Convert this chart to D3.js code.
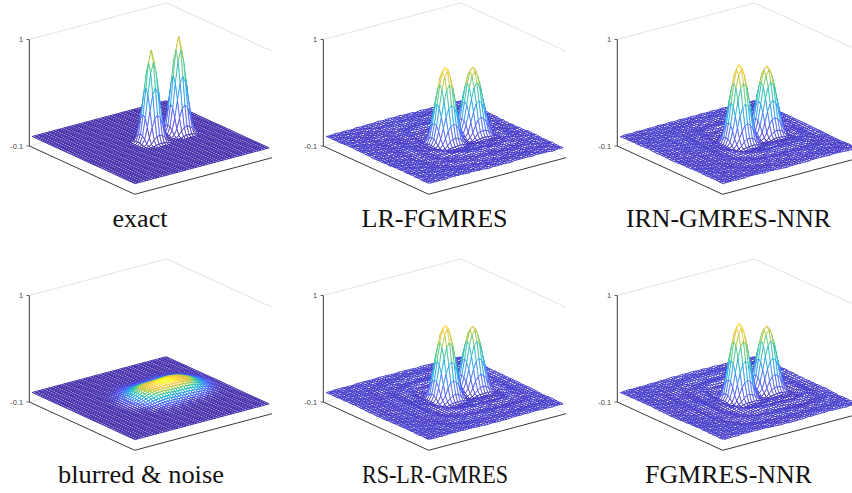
<!DOCTYPE html>
<html><head><meta charset="utf-8">
<script src="https://cdn.jsdelivr.net/npm/d3@7"></script>
<style>html,body{margin:0;background:#fff}svg{display:block}</style></head>
<body><svg id="c" width="852" height="493"></svg>
<script>
// All numbers below are estimates. The 51x51 mesh itself cannot be read
// node by node, so it is rebuilt from these peak heights, profiles, ripples and swells.
const titles = ["exact","LR-FGMRES","IRN-GMRES-NNR","blurred & noise","RS-LR-GMRES","FGMRES-NNR"];
const titleWidths = [55,146,205,166,146,167];
const titleCentres = [140,434.5,728.5,141,435,728.5];
const zTicks = [-0.1,1];
const zTickLabels = ["-0.1","1"];
const peakS = [0.48,0.46];
const peakT = [0.52,0.74];
const peakHeights = [[0.93,0.98],[0.755,0.66],[0.78,0.68],[0.095,0.095],[0.735,0.63],[0.75,0.63]];
const profileSharp = [1,0.87,0.6,0.31,0.1,0.02,0,0];
const profileRecon = [1,0.95,0.78,0.52,0.27,0.09,0,-0.02,-0.018,-0.006,0];
const profileBlur  = [1,0.99,0.97,0.93,0.85,0.72,0.57,0.43,0.3,0.2,0.13,0.08,0.04,0.02,0.01,0,0];
const profiles = [profileSharp,profileRecon,profileRecon,profileBlur,profileRecon,profileRecon];
const ripples = [
 [0,0],
 [0,0,0,0,0,0,0,0,0,0,-0.004,-0.007,0.006,0.009,0.003,-0.003,-0.005,-0.002,0.003,0.004,0.001,-0.003,-0.003,0,0.002,0.001,0,-0.001,0],
 [0,0,0,0,0,0,0,0,0,0,-0.005,-0.009,0.007,0.009,0.003,-0.004,-0.006,-0.002,0.003,0.003,0.001,-0.002,-0.002,0,0.002,0.001,0,-0.001,0],
 [0,0],
 [0,0,0,0,0,0,0,0,0,0,-0.005,-0.01,0.006,0.01,0.004,-0.004,-0.007,-0.003,0.004,0.005,0.001,-0.003,-0.003,0.001,0.002,0.001,0,-0.001,0],
 [0,0,0,0,0,0,0,0,0,0,-0.005,-0.011,0.007,0.012,0.005,-0.005,-0.008,-0.003,0.005,0.006,0.002,-0.003,-0.004,0.001,0.003,0.001,0,-0.001,0]
];
const swellFlat = [[0,0,0,0,0],[0,0,0,0,0],[0,0,0,0,0],[0,0,0,0,0],[0,0,0,0,0]];
const swells = [
 swellFlat,
 [[0,.004,.01,.004,0],[.006,-.006,.004,.006,.008],[-.004,.006,0,.005,-.004],[.006,-.004,.006,-.006,.006],[0,.006,-.004,.004,0]],
 [[0,.004,.006,.008,0],[.004,.005,-.004,.006,.006],[-.004,.004,0,-.004,.004],[.005,-.005,.005,.005,-.004],[0,.004,-.004,.004,0]],
 swellFlat,
 [[0,.004,.006,.004,0],[.004,-.004,.004,.006,.012],[-.004,.004,0,.005,.008],[.004,-.004,.006,-.004,.004],[0,.004,-.004,.004,0]],
 [[0,.005,.012,.006,0],[.004,-.006,.006,.012,.014],[-.006,.006,0,.006,.004],[.006,-.008,.008,-.006,.006],[0,.006,-.006,.006,0]]
];
const roughTile = [
 [ .4,-.7, .2, .9,-.3,-.8, .6, .1],
 [-.5, .3, .8,-.2,-.9, .5, .2,-.6],
 [ .7,-.1,-.6, .4, .8,-.4,-.7, .3],
 [-.2, .9, .1,-.8, .3, .6,-.5, .5],
 [ .6,-.4,-.9, .5,-.1, .7, .4,-.8],
 [-.8, .2, .6, .3,-.6,-.2, .9,-.3],
 [ .3, .5,-.3,-.7, .8, .1,-.4, .6],
 [-.6,-.2, .7, .1,-.5, .9,-.1,-.7]
];
const roughness = [0,0.0045,0.0035,0,0.003,0.0035];
const colourMin = [0,-0.05,-0.05,0,-0.05,-0.05];
const colourMax = [1.12,0.80,0.82,0.118,0.78,0.78];
const parulaStops = ["#3e26a8","#4752f4","#2d87f7","#12b1d6","#37c897","#abc739","#fec338","#f9fb15"];
const panelDx = [0,294,588,0,294,588];
const panelDy = [0,0,0,256,256,256];
const gridN = 50;

const svg = d3.select("#c");
const parula = d3.scaleLinear().domain(d3.range(8).map(i=>i/7)).range(parulaStops).clamp(true);
const zY = d3.scaleLinear().domain(zTicks).range([146,39.5]);
const boxS = {x:d3.scaleLinear([0,1],[0,105.4]), y:d3.scaleLinear([0,1],[0,48.3])};
const boxT = {x:d3.scaleLinear([0,1],[0,137.3]), y:d3.scaleLinear([0,1],[0,-36.6])};
const meshS = d3.scaleLinear([0,1],[0.012,0.988]);
const meshT = d3.scaleLinear([0,1],[0.012,0.988]);
const X0 = 29.3;
const px = (s,t)=>X0+boxS.x(s)+boxT.x(t);
const py = (s,t,z)=>zY(z)+boxS.y(s)+boxT.y(t);

titles.forEach((title,p)=>{
  const g = svg.append("g").attr("transform",`translate(${panelDx[p]},${panelDy[p]})`);
  const prof = d3.scaleLinear(d3.range(profiles[p].length),profiles[p]).clamp(true);
  const rip = d3.scaleLinear(d3.range(ripples[p].length),ripples[p]).clamp(true);
  const cs=(peakS[0]+peakS[1])/2, ct=(peakT[0]+peakT[1])/2;
  const sw = swells[p];
  const Z=[];
  for(let i=0;i<=gridN;i++){Z.push([]);for(let j=0;j<=gridN;j++){
    const s=i/gridN,t=j/gridN;
    let z=0;
    peakS.forEach((ps,k)=>{ const r=Math.hypot(s-ps,t-peakT[k])*gridN; z+=peakHeights[p][k]*prof(r); });
    const ds=Math.abs(s-cs)*gridN,dt=Math.abs(t-ct)*gridN;
    const R=Math.pow(Math.pow(ds,4)+Math.pow(dt,4),0.25);
    z+=rip(R);
    const a=s*4,b=t*4,ia=Math.min(3,Math.floor(a)),ib=Math.min(3,Math.floor(b)),fa=a-ia,fb=b-ib;
    z+=d3.interpolateNumber(d3.interpolateNumber(sw[ia][ib],sw[ia][ib+1])(fb),d3.interpolateNumber(sw[ia+1][ib],sw[ia+1][ib+1])(fb))(fa);
    z+=roughness[p]*roughTile[(i+p)%8][(j*3+p)%8];
    Z[i].push(z);
  }}
  const col=d3.scaleLinear([colourMin[p],colourMax[p]],[0,1]).clamp(true);

  const grey="#dcdcdc";
  const line=(x1,y1,x2,y2,c,w)=>g.append("line").attr("x1",x1).attr("y1",y1).attr("x2",x2).attr("y2",y2).attr("stroke",c).attr("stroke-width",w);
  const zLo=zTicks[0],zHi=zTicks[1];
  line(px(0,0),py(0,0,zHi),px(0,1),py(0,1,zHi),grey,0.8);
  line(px(0,1),py(0,1,zHi),px(1,1),py(1,1,zHi),grey,0.8);
  line(px(0,0),py(0,0,zLo),px(0,1),py(0,1,zLo),grey,0.8);
  line(px(0,1),py(0,1,zLo),px(1,1),py(1,1,zLo),grey,0.8);

  const ax="#3a3a3a";
  line(px(0,0),py(0,0,zLo),px(1,0),py(1,0,zLo),ax,1);
  line(px(1,0),py(1,0,zLo),px(1,1),py(1,1,zLo),ax,1);
  line(px(0,0),py(0,0,zLo),px(0,0),py(0,0,zHi),ax,1);
  zTicks.forEach((v,k)=>{
    line(X0-2.7,zY(v),X0,zY(v),ax,0.8);
    g.append("text").attr("x",X0-6.2).attr("y",zY(v)+2.5).attr("text-anchor","end")
     .attr("font-family","Liberation Sans").attr("font-size",7.4).attr("fill","#444").text(zTickLabels[k]);
  });

  const cells=[];
  for(let i=0;i<gridN;i++)for(let j=gridN-1;j>=0;j--)cells.push([i,j]);
  const P=(i,j)=>{const s=meshS(i/gridN),t=meshT(j/gridN);return [px(s,t),py(s,t,Z[i][j])];};
  const corners=([i,j])=>[Z[i][j],Z[i+1][j],Z[i+1][j+1],Z[i][j+1]];
  g.append("g").selectAll("path").data(cells).join("path")
    .attr("d",([i,j])=>"M"+[P(i,j),P(i+1,j),P(i+1,j+1),P(i,j+1)].map(q=>q[0].toFixed(2)+","+q[1].toFixed(2)).join("L")+"Z")
    .attr("fill","#fff")
    .attr("stroke",c=>parula(col(d3.mean(corners(c)))))
    .attr("stroke-width",c=>{const e=d3.extent(corners(c));return e[1]-e[0]>0.04?0.75:0.95;})
    .attr("stroke-linejoin","round");

  g.append("text").attr("x",titleCentres[p]-panelDx[p]).attr("y",227)
    .attr("text-anchor","middle").attr("font-family","Liberation Serif").attr("font-size",24.5)
    .attr("fill","#111").attr("textLength",titleWidths[p]).attr("lengthAdjust","spacingAndGlyphs").text(title);
});
</script></body></html>
